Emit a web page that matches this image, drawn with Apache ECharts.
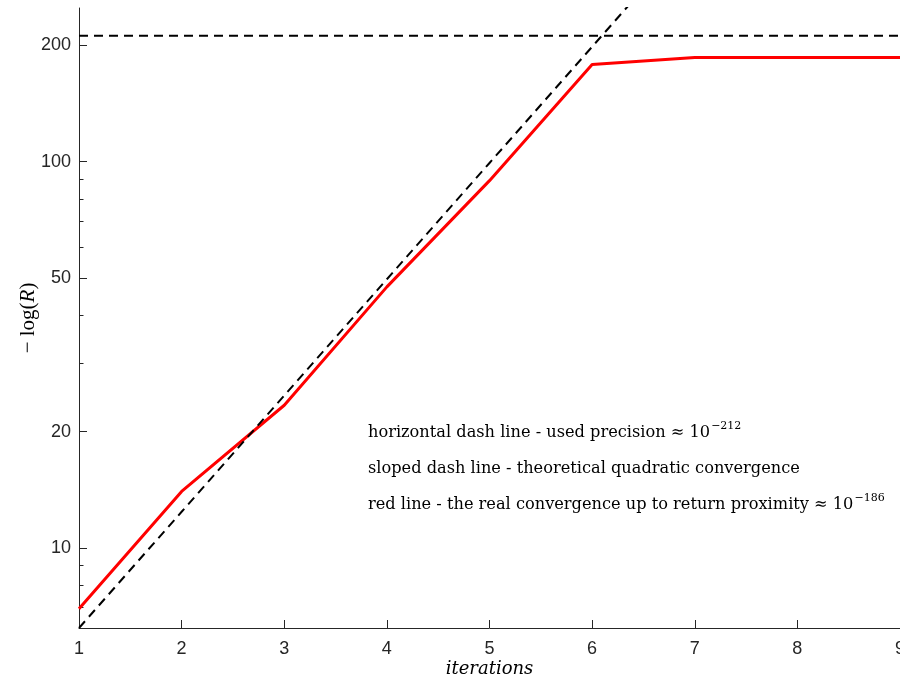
<!DOCTYPE html>
<html>
<head>
<meta charset="utf-8">
<script src="https://cdn.jsdelivr.net/npm/echarts@6/dist/echarts.min.js"></script>
<style>html,body{margin:0;padding:0;background:#fff}#c{width:900px;height:679px}</style>
</head>
<body>
<div id="c"></div>
<script>
// ---- data ----
var iterations = [1, 2, 3, 4, 5, 6, 7, 8, 9];
var realConvergence = [6.95, 14.0, 23.4, 47.4, 89.3, 178.6, 186, 186, 186];
var theoryX = [1, 2, 3, 4, 5, 6, 7];
var theoryValues = [6.2, 12.4, 24.8, 49.6, 99.2, 198.4, 396.8];
var precisionX = [1, 9];
var precisionValues = [212, 212];
var yMajorTicks = [10, 20, 50, 100, 200];
var yMinorTicks = [7, 8, 9, 30, 40, 60, 70, 80, 90];
var xTicks = [1, 2, 3, 4, 5, 6, 7, 8, 9];
var notes = [
  ['horizontal dash line - used precision \u2248 10', '\u2212212'],
  ['sloped dash line - theoretical quadratic convergence', ''],
  ['red line - the real convergence up to return proximity \u2248 10', '\u2212186']
];

function pairs(xs, ys) { return xs.map(function (x, i) { return [x, ys[i]]; }); }

var axisColor = '#262626';
var chart = echarts.init(document.getElementById('c'), null, { renderer: 'canvas' });

var graphics = notes.map(function (n, i) {
  return {
    type: 'text',
    left: 368,
    top: 421 + i * 36,
    style: {
      text: '{t|' + n[0] + '}' + '{s|' + (n[1] || ' ') + '}',
      rich: {
        t: { fontFamily: 'DejaVu Serif', fontSize: 16.2, fill: '#000', lineHeight: 24 },
        s: { fontFamily: 'DejaVu Serif', fontSize: 11, fill: '#000', lineHeight: 24, padding: [0, 0, 12, 1] }
      }
    }
  };
});

chart.setOption({
  animation: false,
  backgroundColor: '#fff',
  grid: { left: 79, right: 0, top: 8, bottom: 51, containLabel: false, outerBoundsMode: 'none' },
  xAxis: {
    type: 'value', min: 1, max: 9, interval: 1,
    name: 'iterations', nameLocation: 'middle', nameGap: 32, nameMoveOverlap: false,
    nameTextStyle: { fontFamily: 'DejaVu Serif', fontStyle: 'italic', fontSize: 18, color: '#000' },
    axisLine: { show: true, lineStyle: { color: axisColor, width: 1 } },
    axisTick: { show: true, inside: true, length: 8, lineStyle: { color: axisColor }, customValues: xTicks },
    axisLabel: { fontFamily: 'Liberation Sans', fontSize: 18, color: axisColor, margin: 12, customValues: xTicks },
    splitLine: { show: false }
  },
  yAxis: [{
    type: 'log', logBase: 10, min: 6.2, max: 250,
    name: '{n|\u2212 log(}{i|R}{n|)}', nameLocation: 'middle', nameGap: 40, nameMoveOverlap: false,
    nameTextStyle: {
      rich: {
        n: { fontFamily: 'Liberation Serif', fontSize: 21, color: '#000' },
        i: { fontFamily: 'Liberation Serif', fontStyle: 'italic', fontSize: 21, color: '#000' }
      }
    },
    axisLine: { show: true, lineStyle: { color: axisColor, width: 1 } },
    axisTick: { show: true, inside: true, length: 8, lineStyle: { color: axisColor }, customValues: yMajorTicks },
    axisLabel: { fontFamily: 'Liberation Sans', fontSize: 18, color: axisColor, margin: 8, customValues: yMajorTicks },
    splitLine: { show: false },
    minorTick: { show: false }
  }, {
    type: 'log', logBase: 10, min: 6.2, max: 250, position: 'left',
    axisLine: { show: false },
    axisTick: { show: true, inside: true, length: 4.5, lineStyle: { color: axisColor }, customValues: yMinorTicks },
    axisLabel: { show: false },
    splitLine: { show: false }
  }],
  graphic: graphics,
  series: [{
    type: 'line', data: pairs(iterations, realConvergence), showSymbol: false, symbol: 'none',
    lineStyle: { color: '#ff0000', width: 3 }, z: 2
  }, {
    type: 'line', data: pairs(precisionX, precisionValues), showSymbol: false, symbol: 'none',
    lineStyle: { color: '#000', width: 2, type: [9, 6] }, z: 3
  }, {
    type: 'line', data: pairs(theoryX, theoryValues), showSymbol: false, symbol: 'none',
    lineStyle: { color: '#000', width: 2, type: [9, 6] }, z: 3
  }]
});
</script>
</body>
</html>
